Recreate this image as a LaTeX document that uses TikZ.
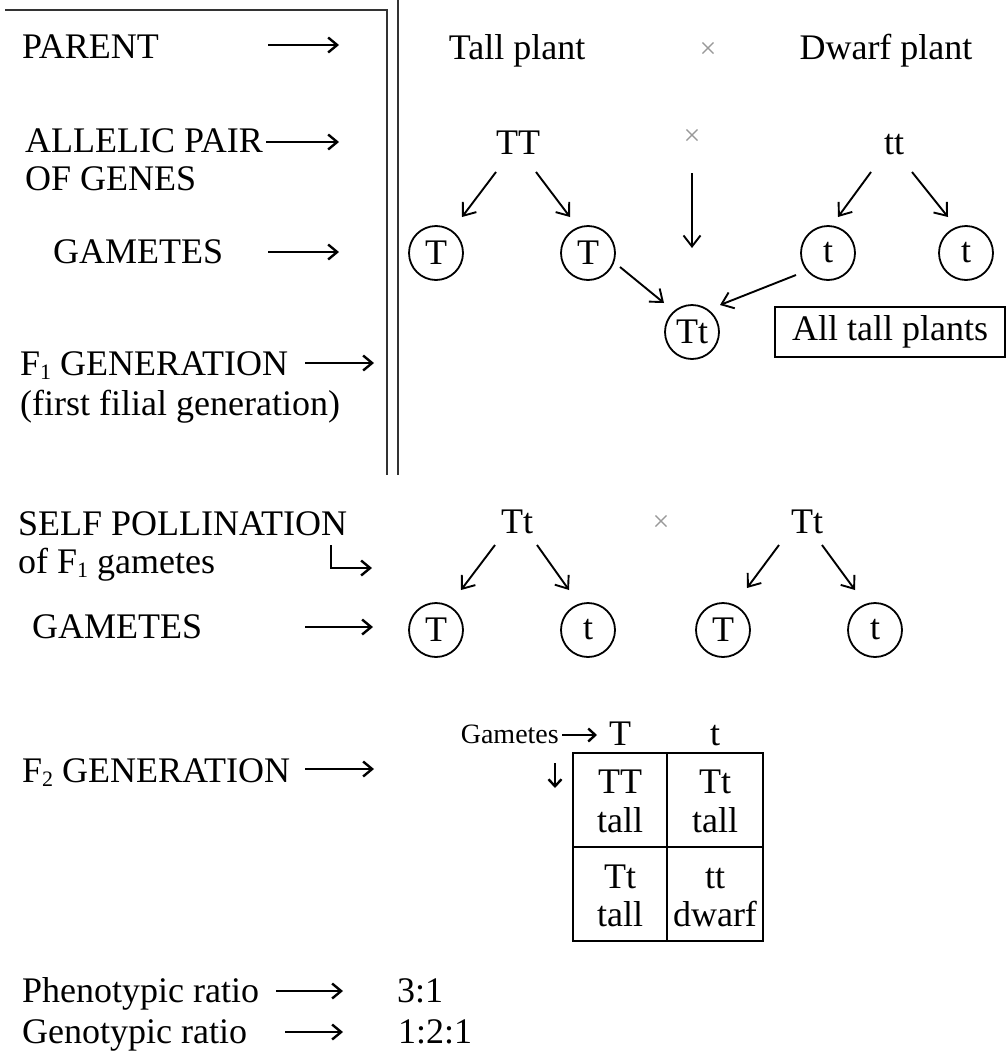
\documentclass[tikz,border=0pt]{standalone}
\usepackage{fontspec}
\setmainfont{Liberation Serif}
\usetikzlibrary{arrows.meta}
\newcommand{\lowsub}[1]{\raisebox{-0.12em}{\fontsize{22}{22}\selectfont #1}}
\begin{document}
\begin{tikzpicture}[x=1pt,y=-1pt,
  txt/.style={font=\fontsize{36}{40}\selectfont, inner sep=0pt, anchor=base west},
  ctxt/.style={font=\fontsize{36}{40}\selectfont, inner sep=0pt, anchor=base},
  small/.style={font=\fontsize{28}{30}\selectfont, inner sep=0pt, anchor=base east},
  cross/.style={font=\fontsize{30}{30}\selectfont, text=black!40, inner sep=0pt},
  gam/.style={circle, draw, line width=1.8pt, minimum size=54pt, inner sep=0pt, font=\fontsize{36}{40}\selectfont},
  frame/.style={line width=1.8pt, black!80},
  arr/.style={line width=1.9pt, -{Straight Barb[length=11pt,width=17pt,line width=1.9pt]}},
  larr/.style={line width=2.4pt, -{Straight Barb[length=9pt,width=15pt,line width=2.4pt]}},
  barr/.style={line width=2.6pt, -{Straight Barb[length=7pt,width=13pt,line width=2.4pt]}}
]
\useasboundingbox (0,0) rectangle (1008,1055);
% frame
\coordinate (fa) at (5,10); \coordinate (fb) at (387,10); \coordinate (fc) at (387,475);
\coordinate (fd) at (398,0); \coordinate (fe) at (398,475);
\draw[frame] (fa) -- (fb) -- (fc);
\draw[frame] (fd) -- (fe);
% left labels
\node[txt] (parent) at (22,58) {PARENT};
\coordinate (pa1) at (268,45); \coordinate (pa2) at (339,45);
\draw[larr] (pa1) -- (pa2);
\node[txt] (allelic) at (25,152) {ALLELIC PAIR};
\node[txt] (genes) at (25,190) {OF GENES};
\coordinate (al1) at (266,142); \coordinate (al2) at (339,142);
\draw[larr] (al1) -- (al2);
\node[txt] (gam1) at (53,263) {GAMETES};
\coordinate (ga1) at (268,252); \coordinate (ga2) at (339,252);
\draw[larr] (ga1) -- (ga2);
\node[txt] (f1) at (20,375) {F\lowsub{1} GENERATION};
\coordinate (fg1) at (305,363); \coordinate (fg2) at (374,363);
\draw[larr] (fg1) -- (fg2);
\node[txt] (ffg) at (20,415) {(first filial generation)};
% top right
\node[ctxt] (tall) at (517,59) {Tall plant};
\node[cross] (x1) at (708,50) {×};
\node[ctxt] (dwarf) at (886,59) {Dwarf plant};
\node[ctxt] (TT) at (518,154) {TT};
\node[cross] (x2) at (692,137) {×};
\node[ctxt] (tt) at (894,154) {tt};
\node[gam] (g1) at (436,253) {T};
\node[gam] (g2) at (588,253) {T};
\node[gam] (g3) at (828,253) {t};
\node[gam] (g4) at (966,253) {t};
\node[gam] (Tt) at (692,332) {Tt};
\draw[arr] ([shift={(-22,18)}]TT.base) -- ([shift={(26,-36)}]g1.center);
\draw[arr] ([shift={(18,18)}]TT.base) -- ([shift={(-18,-36)}]g2.center);
\draw[arr] ([shift={(0,36)}]x2.center) -- ([shift={(0,111)}]x2.center);
\draw[arr] ([shift={(-23,18)}]tt.base) -- ([shift={(10,-36)}]g3.center);
\draw[arr] ([shift={(18,18)}]tt.base) -- ([shift={(-18,-36)}]g4.center);
\draw[arr] ([shift={(32,14)}]g2.center) -- ([shift={(-28,-29)}]Tt.center);
\draw[arr] ([shift={(-32,22)}]g3.center) -- ([shift={(28,-27)}]Tt.center);
\node[draw, line width=1.5pt, inner sep=0pt, minimum width=230pt, minimum height=50pt,
      font=\fontsize{36}{40}\selectfont] (all) at (890,332) {All tall plants};
% self pollination
\node[txt] (self) at (18,535) {SELF POLLINATION};
\node[txt] (ofF1) at (18,573) {of F\lowsub{1} gametes};
\coordinate (h1) at (331,545); \coordinate (h2) at (331,568); \coordinate (h3) at (372,568);
\draw[larr, line width=2pt] (h1) -- (h2) -- (h3);
\node[ctxt] (Tt1) at (517,533) {Tt};
\node[cross] (x3) at (661,523) {×};
\node[ctxt] (Tt2) at (807,533) {Tt};
\node[gam] (k1) at (436,630) {T};
\node[gam] (k2) at (588,630) {t};
\node[gam] (k3) at (723,630) {T};
\node[gam] (k4) at (875,630) {t};
\draw[arr] ([shift={(-22,12)}]Tt1.base) -- ([shift={(25,-40)}]k1.center);
\draw[arr] ([shift={(20,12)}]Tt1.base) -- ([shift={(-19,-40)}]k2.center);
\draw[arr] ([shift={(-28,12)}]Tt2.base) -- ([shift={(24,-42)}]k3.center);
\draw[arr] ([shift={(15,12)}]Tt2.base) -- ([shift={(-20,-40)}]k4.center);
\node[txt] (gam2) at (32,638) {GAMETES};
\coordinate (gb1) at (305,627); \coordinate (gb2) at (373,627);
\draw[larr] (gb1) -- (gb2);
% F2
\node[txt] (f2) at (22,782) {F\lowsub{2} GENERATION};
\coordinate (f21) at (305,769); \coordinate (f22) at (374,769);
\draw[larr] (f21) -- (f22);
\node[small] (gamsm) at (559,743) {Gametes};
\coordinate (gs1) at (562,735); \coordinate (gs2) at (597,735);
\draw[barr] (gs1) -- (gs2);
\node[ctxt] (hT) at (620,745) {T};
\node[ctxt] (ht) at (715,745) {t};
\coordinate (d1) at (555,763); \coordinate (d2) at (555,788);
\draw[barr] (d1) -- (d2);
\coordinate (sq1) at (573,753); \coordinate (sq2) at (763,941);
\coordinate (sqm1) at (667,753); \coordinate (sqm2) at (667,941);
\coordinate (sqh1) at (573,847); \coordinate (sqh2) at (763,847);
\draw[line width=1.6pt] (sq1) rectangle (sq2);
\draw[line width=1.6pt] (sqm1) -- (sqm2);
\draw[line width=1.6pt] (sqh1) -- (sqh2);
\node[ctxt] (c11a) at (620,793) {TT};
\node[ctxt] (c11b) at (620,832) {tall};
\node[ctxt] (c12a) at (715,793) {Tt};
\node[ctxt] (c12b) at (715,832) {tall};
\node[ctxt] (c21a) at (620,888) {Tt};
\node[ctxt] (c21b) at (620,926) {tall};
\node[ctxt] (c22a) at (715,888) {tt};
\node[ctxt] (c22b) at (715,926) {dwarf};
% ratios
\node[txt] (pheno) at (22,1002) {Phenotypic ratio};
\coordinate (pr1) at (276,991); \coordinate (pr2) at (343,991);
\draw[larr] (pr1) -- (pr2);
\node[txt] (r31) at (397,1002) {3:1};
\node[txt] (geno) at (22,1043) {Genotypic ratio};
\coordinate (gr1) at (285,1032); \coordinate (gr2) at (343,1032);
\draw[larr] (gr1) -- (gr2);
\node[txt] (r121) at (398,1043) {1:2:1};
\end{tikzpicture}
\end{document}
